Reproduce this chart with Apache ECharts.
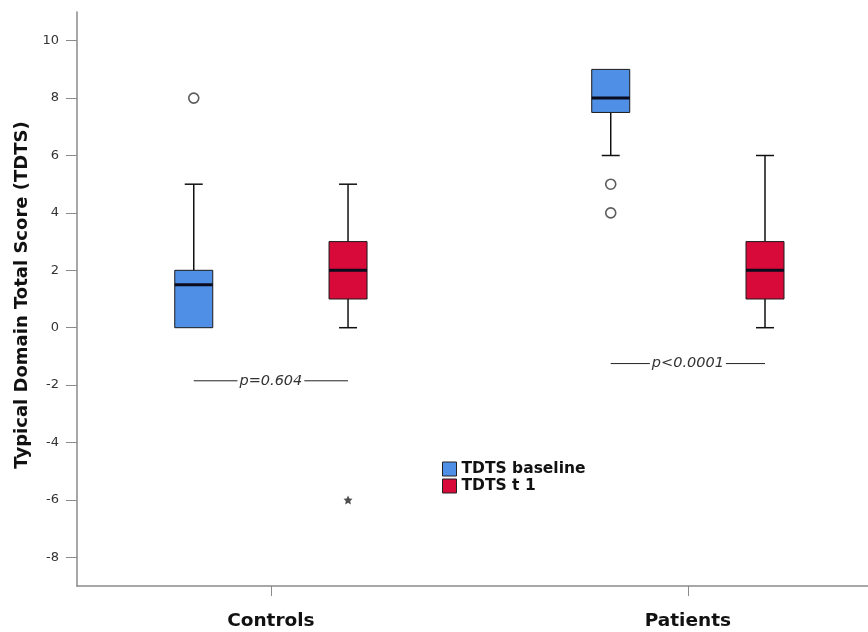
<!DOCTYPE html>
<html>
<head>
<meta charset="utf-8">
<script src="https://cdn.jsdelivr.net/npm/echarts@6/dist/echarts.min.js"></script>
<style>html,body{margin:0;padding:0;background:#fff}#c{width:868px;height:632px}</style>
</head>
<body>
<div id="c"></div>
<script>
// ---- data ----
const categories = ['Controls', 'Patients'];
const seriesNames = ['TDTS baseline', 'TDTS t 1'];
// [min, Q1, median, Q3, max] per category
const baselineStats = [[0, 0, 1.5, 2, 5], [6, 7.5, 8, 9, 9]];
const t1Stats = [[0, 1, 2, 3, 5], [0, 1, 2, 3, 6]];
// outliers: [categoryIndex (1-based), value]
const baselineOutliers = [[1, 8], [2, 5], [2, 4]];
const t1Outliers = [];
const t1Extremes = [[1, -6]];
const baselineExtremes = [];
// p-value annotations: [categoryIndex, yValue, text]
const pValues = [[1, -1.85, 'p=0.604'], [2, -1.25, 'p<0.0001']];
const yTicks = [-8, -6, -4, -2, 0, 2, 4, 6, 8, 10];

// ---- style ----
const BLUE = '#4f90e6';
const RED = '#d80a3a';
const OFFSET = 0.185;
const FONT = 'DejaVu Sans, Verdana, sans-serif';
const chart = echarts.init(document.getElementById('c'));

function boxSeries(name, color, stats, off) {
  return {
    name: name,
    type: 'custom',
    itemStyle: { color: color },
    data: stats.map((s, i) => [i + 1].concat(s)),
    encode: { x: 0, y: [1, 2, 3, 4, 5] },
    renderItem: function (params, api) {
      const x = api.value(0) + off;
      const mn = api.value(1), q1 = api.value(2), md = api.value(3), q3 = api.value(4), mx = api.value(5);
      const cx = api.coord([x, md])[0];
      const y = v => api.coord([x, v])[1];
      const hw = 19, cap = 9;
      const ls = { stroke: '#111', lineWidth: 1.5 };
      const ch = [];
      if (mx > q3) {
        ch.push({ type: 'line', shape: { x1: cx, y1: y(q3), x2: cx, y2: y(mx) }, style: ls });
        ch.push({ type: 'line', shape: { x1: cx - cap, y1: y(mx), x2: cx + cap, y2: y(mx) }, style: ls });
      }
      if (mn < q1) {
        ch.push({ type: 'line', shape: { x1: cx, y1: y(q1), x2: cx, y2: y(mn) }, style: ls });
        ch.push({ type: 'line', shape: { x1: cx - cap, y1: y(mn), x2: cx + cap, y2: y(mn) }, style: ls });
      }
      ch.push({ type: 'rect', shape: { x: cx - hw, y: y(q3), width: hw * 2, height: y(q1) - y(q3) },
        style: { fill: color, stroke: '#1a1a1a', lineWidth: 1 } });
      ch.push({ type: 'line', shape: { x1: cx - hw, y1: y(md), x2: cx + hw, y2: y(md) },
        style: { stroke: '#0a0b1c', lineWidth: 3 } });
      return { type: 'group', children: ch };
    },
    z: 3
  };
}

function pointSeries(list, off, symbol, size, style) {
  return {
    type: 'scatter',
    data: list.map(p => [p[0] + off, p[1]]),
    symbol: symbol,
    symbolSize: size,
    itemStyle: style,
    z: 4,
    silent: true
  };
}

const starPath = 'path://M0,-10L2.9,-4L9.5,-3.1L4.7,1.5L5.9,8.1L0,5L-5.9,8.1L-4.7,1.5L-9.5,-3.1L-2.9,-4Z';

const pSeries = {
  type: 'custom',
  data: pValues,
  encode: { x: 0, y: 1 },
  renderItem: function (params, api) {
    const g = api.value(0), v = api.value(1);
    const txt = pValues[params.dataIndex][2];
    const l = api.coord([g - OFFSET, v]);
    const r = api.coord([g + OFFSET, v]);
    const mid = (l[0] + r[0]) / 2;
    return {
      type: 'group',
      children: [
        { type: 'line', shape: { x1: l[0], y1: l[1], x2: r[0], y2: r[1] }, style: { stroke: '#222', lineWidth: 1 } },
        { type: 'text', x: mid, y: l[1], style: {
          text: txt, fill: '#333', fontSize: 14.5, fontStyle: 'italic', fontFamily: FONT,
          align: 'center', verticalAlign: 'middle', backgroundColor: '#fff', padding: [0, 2] } }
      ]
    };
  },
  z: 2
};

const option = {
  animation: false,
  backgroundColor: '#fff',
  grid: { left: 77, right: 0, top: 12, bottom: 46 },
  legend: {
    orient: 'vertical', left: 442, top: 461, padding: 0, itemGap: 1, itemWidth: 14, itemHeight: 14,
    icon: 'rect', selectedMode: false,
    textStyle: { fontSize: 15.5, fontWeight: 'bold', color: '#111', fontFamily: FONT },
    data: [
      { name: seriesNames[0], itemStyle: { color: BLUE, borderColor: '#222', borderWidth: 1 } },
      { name: seriesNames[1], itemStyle: { color: RED, borderColor: '#222', borderWidth: 1 } }
    ]
  },
  xAxis: {
    type: 'value', min: 0.535, max: 2.432,
    splitLine: { show: false },
    axisLine: { show: true, onZero: false, lineStyle: { color: '#8a8a8a', width: 1.5 } },
    axisTick: { show: true, customValues: [1, 2], length: 10, lineStyle: { color: '#8a8a8a' } },
    axisLabel: { customValues: [1, 2], formatter: v => categories[Math.round(v) - 1] || '', margin: 26,
      fontSize: 18.5, fontWeight: 'bold', color: '#111', fontFamily: FONT }
  },
  yAxis: {
    type: 'value', min: -9, max: 11,
    name: 'Typical Domain Total Score (TDTS)', nameLocation: 'middle', nameGap: 45,
    nameTextStyle: { fontSize: 18, fontWeight: 'bold', color: '#111', fontFamily: FONT, padding: [0, 0, 0, 8] },
    splitLine: { show: false },
    axisLine: { show: true, lineStyle: { color: '#8a8a8a', width: 1.5 } },
    axisTick: { show: true, customValues: yTicks, length: 11, lineStyle: { color: '#8a8a8a' } },
    axisLabel: { customValues: yTicks, margin: 18, fontSize: 13, color: '#333', fontFamily: FONT }
  },
  series: [
    boxSeries(seriesNames[0], BLUE, baselineStats, -OFFSET),
    boxSeries(seriesNames[1], RED, t1Stats, OFFSET),
    pointSeries(baselineOutliers, -OFFSET, 'circle', 10, { color: '#fff', borderColor: '#333', borderWidth: 1.6 }),
    pointSeries(t1Outliers, OFFSET, 'circle', 10, { color: '#fff', borderColor: '#333', borderWidth: 1.6 }),
    pointSeries(t1Extremes, OFFSET, starPath, 9, { color: '#222' }),
    pointSeries(baselineExtremes, -OFFSET, starPath, 9, { color: '#222' }),
    pSeries
  ]
};
chart.setOption(option);
</script>
</body>
</html>
